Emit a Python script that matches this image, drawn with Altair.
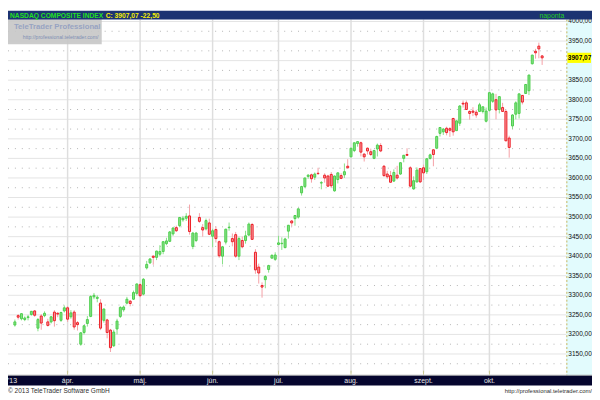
import altair as alt
import pandas as pd

# ---------------- data (NASDAQ Composite, daily) ----------------
dates = ["03-07","03-08","03-11","03-12","03-13","03-14","03-15","03-18","03-19","03-20",
         "03-21","03-22","03-25","03-26","03-27","03-28","04-01","04-02","04-03","04-04",
         "04-05","04-08","04-09","04-10","04-11","04-12","04-15","04-16","04-17","04-18",
         "04-19","04-22","04-23","04-24","04-25","04-26","04-29","04-30","05-01","05-02",
         "05-03","05-06","05-07","05-08","05-09","05-10","05-13","05-14","05-15","05-16",
         "05-17","05-20","05-21","05-22","05-23","05-24","05-28","05-29","05-30","05-31",
         "06-03","06-04","06-05","06-06","06-07","06-10","06-11","06-12","06-13","06-14",
         "06-17","06-18","06-19","06-20","06-21","06-24","06-25","06-26","06-27","06-28",
         "07-01","07-02","07-03","07-05","07-08","07-09","07-10","07-11","07-12","07-15",
         "07-16","07-17","07-18","07-19","07-22","07-23","07-24","07-25","07-26","07-29",
         "07-30","07-31","08-01","08-02","08-05","08-06","08-07","08-08","08-09","08-12",
         "08-13","08-14","08-15","08-16","08-19","08-20","08-21","08-22","08-23","08-26",
         "08-27","08-28","08-29","08-30","09-03","09-04","09-05","09-06","09-09","09-10",
         "09-11","09-12","09-13","09-16","09-17","09-18","09-19","09-20","09-23","09-24",
         "09-25","09-26","09-27","09-30","10-01","10-02","10-03","10-04","10-07","10-08",
         "10-09","10-10","10-11","10-14","10-15","10-16","10-17","10-18","10-21","10-22",
         "10-23"]

opens = [3224,3248,3240,3238,3243,3251,3260,3216,3247,3248,
         3232,3232,3257,3254,3236,3260,3268,3245,3257,3230,
         3175,3205,3228,3246,3296,3292,3280,3236,3237,3211,
         3171,3214,3246,3263,3280,3285,3290,3305,3327,3303,
         3370,3383,3400,3397,3405,3412,3432,3438,3457,3473,
         3478,3493,3497,3503,3425,3440,3499,3473,3470,3485,
         3451,3468,3437,3400,3436,3473,3445,3455,3400,3440,
         3440,3454,3481,3410,3372,3325,3340,3366,3395,3392,
         3430,3432,3422,3464,3490,3496,3500,3562,3578,3604,
         3608,3602,3612,3587,3607,3605,3609,3567,3596,3606,
         3608,3630,3654,3670,3688,3690,3661,3676,3667,3650,
         3674,3683,3630,3610,3606,3592,3607,3610,3650,3660,
         3626,3572,3590,3624,3626,3616,3650,3672,3676,3714,
         3718,3727,3726,3752,3721,3740,3791,3792,3770,3771,
         3768,3770,3770,3745,3773,3796,3800,3775,3780,3770,
         3702,3733,3763,3765,3811,3816,3823,3892,3924,3937,
         3912]

highs = [3238,3252,3254,3246,3250,3260,3262,3242,3252,3259,
         3240,3247,3262,3257,3258,3274,3272,3262,3262,3234,
         3206,3224,3247,3300,3306,3300,3290,3266,3240,3214,
         3212,3240,3272,3274,3296,3288,3312,3330,3330,3344,
         3388,3394,3402,3414,3428,3438,3447,3464,3474,3478,
         3499,3503,3510,3532,3462,3462,3510,3482,3496,3496,
         3470,3476,3440,3426,3470,3486,3458,3462,3450,3450,
         3465,3486,3485,3418,3381,3333,3352,3378,3405,3410,
         3452,3448,3447,3480,3492,3505,3522,3580,3600,3610,
         3611,3614,3626,3592,3612,3608,3615,3606,3614,3612,
         3637,3648,3676,3690,3694,3693,3663,3678,3675,3672,
         3688,3689,3633,3618,3618,3622,3631,3640,3658,3676,
         3630,3604,3627,3625,3634,3651,3662,3673,3708,3729,
         3727,3731,3730,3754,3747,3786,3798,3798,3773,3781,
         3774,3792,3782,3780,3818,3818,3815,3808,3792,3774,
         3708,3763,3796,3816,3812,3840,3864,3915,3930,3946,
         3914]

lows = [3220,3238,3236,3234,3236,3248,3245,3208,3212,3244,
        3220,3228,3220,3244,3232,3256,3232,3240,3212,3210,
        3171,3200,3220,3244,3290,3282,3211,3230,3190,3155,
        3168,3200,3242,3258,3277,3272,3288,3300,3295,3300,
        3366,3380,3378,3390,3400,3405,3428,3436,3452,3462,
        3474,3488,3490,3455,3418,3436,3485,3450,3466,3454,
        3423,3435,3396,3379,3430,3465,3425,3396,3390,3420,
        3432,3452,3443,3355,3330,3294,3318,3358,3394,3388,
        3428,3416,3420,3445,3476,3478,3496,3555,3574,3598,
        3588,3595,3608,3571,3588,3578,3574,3565,3586,3597,
        3600,3624,3654,3666,3680,3655,3642,3660,3656,3648,
        3655,3666,3603,3598,3589,3590,3596,3608,3640,3656,
        3576,3570,3588,3587,3595,3610,3647,3630,3676,3706,
        3710,3709,3705,3708,3721,3733,3780,3774,3749,3758,
        3754,3770,3765,3742,3770,3792,3750,3765,3770,3694,
        3652,3725,3750,3752,3788,3815,3812,3890,3905,3906,
        3889]

closes = [3232,3244,3253,3242,3245,3259,3249,3238,3229,3254,
          3223,3245,3235,3252,3256,3268,3239,3255,3219,3225,
          3204,3222,3238,3297,3300,3295,3216,3265,3205,3166,
          3206,3234,3269,3270,3290,3279,3307,3329,3299,3341,
          3379,3393,3397,3413,3412,3437,3439,3462,3472,3465,
          3499,3497,3502,3463,3459,3459,3489,3467,3491,3456,
          3465,3445,3401,3424,3469,3474,3437,3400,3445,3424,
          3452,3482,3443,3365,3357,3321,3348,3376,3402,3403,
          3434,3433,3444,3479,3485,3504,3521,3578,3600,3607,
          3598,3610,3611,3588,3600,3579,3580,3605,3613,3599,
          3616,3626,3676,3690,3693,3666,3654,3669,3660,3670,
          3684,3669,3606,3603,3589,3614,3600,3639,3658,3658,
          3579,3593,3620,3590,3613,3649,3659,3660,3706,3729,
          3725,3716,3722,3718,3746,3784,3789,3775,3765,3768,
          3761,3787,3782,3771,3818,3815,3774,3808,3770,3695,
          3678,3761,3792,3815,3794,3839,3863,3914,3920,3930,
          3907.07]

y_ticks = [3150, 3200, 3250, 3300, 3350, 3400, 3450, 3500, 3550, 3600,
           3650, 3700, 3750, 3800, 3850, 3900, 3950, 4000]
y_labels = ["3150,00", "3200,00", "3250,00", "3300,00", "3350,00", "3400,00",
            "3450,00", "3500,00", "3550,00", "3600,00", "3650,00", "3700,00",
            "3750,00", "3800,00", "3850,00", "3900,00", "3950,00", "4000,00"]
dotted_levels = [3125, 3175, 3225, 3275, 3325, 3375, 3425, 3475, 3525, 3575,
                 3625, 3675, 3725, 3775, 3825, 3875, 3925, 3975, 4025]
month_keys = ["04", "05", "06", "07", "08", "09", "10"]
month_labels = ["ápr.", "máj.", "jún.", "júl.", "aug.", "szept.", "okt."]

title_name = "NASDAQ COMPOSITE INDEX"
title_quote = "C: 3907,07 -22,50"
last_label = "3907,07"

FONT = "Liberation Sans"

# ---------------- tables ----------------
df = pd.DataFrame({"date": dates, "o": opens, "h": highs, "l": lows, "c": closes})
df["i"] = range(len(df))
df["dir"] = ["up" if c >= o else "down" for o, c in zip(df["o"], df["c"])]

month_idx = [int(df.index[df["date"].str.startswith(m)][0]) for m in month_keys]
months = pd.DataFrame({"i": month_idx, "lab": month_labels})
last = closes[-1]
ticks_all = pd.DataFrame({"v": y_ticks, "lab": y_labels})
ticks = ticks_all[(ticks_all["v"] - last).abs() > 20]      # label hidden behind the price tag
dots = pd.DataFrame({"v": dotted_levels})
lastdf = pd.DataFrame({"v": [last], "lo": [last - 13], "hi": [last + 13], "lab": [last_label]})
one = pd.DataFrame({"a": [0]})

W, H = 592, 392
XS = alt.Scale(domain=[-0.5886, 173.63], nice=False, zero=False)
YS = alt.Scale(domain=[3039.09, 4027.74], nice=False, zero=False)
PLOT_R = 566   # right edge of plot area (chart coords)
PLOT_B = 367   # bottom edge of plot area

def X(f):
    return alt.X(f, type="quantitative", scale=XS, axis=None)

def Y(f):
    return alt.Y(f, type="quantitative", scale=YS, axis=None)

def label(text, x, y, size, color, align="left", weight="normal"):
    return alt.Chart(one).mark_text(text=text, font=FONT, fontSize=size, fontWeight=weight,
                                    color=color, align=align, baseline="middle").encode(
        x=alt.value(x), y=alt.value(y))

def box(x1, x2, y1, y2, fill, opacity=1.0):
    return alt.Chart(one).mark_rect(fill=fill, opacity=opacity).encode(
        x=alt.value(x1), x2=alt.value(x2), y=alt.value(y1), y2=alt.value(y2))

dircol_fill = alt.Color("dir:N", scale=alt.Scale(domain=["up", "down"], range=["#d3f6cf", "#ee1c24"]), legend=None)
dircol_stroke = alt.Stroke("dir:N", scale=alt.Scale(domain=["up", "down"], range=["#4cce4c", "#ee1c24"]), legend=None)
wickcol = alt.Color("dir:N", scale=alt.Scale(domain=["up", "down"], range=["#86e086", "#f5a0a6"]), legend=None)

grid_solid = alt.Chart(ticks_all).mark_rule(color="#e4e4e4", strokeWidth=1).encode(
    y=Y("v"), x=alt.value(0), x2=alt.value(PLOT_R))
grid_dot = alt.Chart(dots).mark_rule(color="#b4b4b4", strokeWidth=1, strokeDash=[1, 6]).encode(
    y=Y("v"), x=alt.value(0), x2=alt.value(PLOT_R))
grid_v = alt.Chart(months).mark_rule(color="#dedede", strokeWidth=1.5).encode(
    x=X("i"), y=alt.value(9), y2=alt.value(PLOT_B))

logo_box = box(0, 95, 7, 34, "#c6c6c6", 0.9)
logo_t1 = label("TeleTrader Professional", 6, 17, 7.8, "#97a3c2", weight="bold")
logo_t2 = label("http://professional.teletrader.com/", 15, 27, 5.2, "#7f8fb4")

wicks = alt.Chart(df).mark_rule(strokeWidth=1).encode(
    x=X("i"), y=Y("l"), y2=alt.Y2("h"), color=wickcol)
bodies = alt.Chart(df).mark_bar(size=2, strokeWidth=1).encode(
    x=X("i"), y=Y("o"), y2=alt.Y2("c"), color=dircol_fill, stroke=dircol_stroke)

panel = box(PLOT_R, W, 9, PLOT_B + 3, "#e2fbfd")
panel_edge = alt.Chart(one).mark_rule(color="#c8b45a", strokeWidth=1, strokeDash=[2, 2]).encode(
    x=alt.value(PLOT_R + 0.5), y=alt.value(9), y2=alt.value(PLOT_B + 3))
ylab = alt.Chart(ticks).mark_text(font=FONT, fontSize=6.6, color="#101010",
                                  align="left", baseline="middle").encode(
    y=Y("v"), x=alt.value(PLOT_R + 2), text="lab:N")
last_box = alt.Chart(lastdf).mark_rect(fill="#ffff00").encode(
    y=Y("lo"), y2=alt.Y2("hi"), x=alt.value(PLOT_R + 1), x2=alt.value(W - 1))
last_txt = alt.Chart(lastdf).mark_text(font=FONT, fontSize=6.6, fontWeight="bold",
                                       color="#000000", align="left", baseline="middle").encode(
    y=Y("v"), x=alt.value(PLOT_R + 1.5), text="lab:N")

header = box(0, W, 0, 9, "#1c3372")
head_t1 = label(title_name, 2, 5, 6.8, "#22e022", weight="bold")
head_t2 = label(title_quote, 99, 5, 6.8, "#f6f000", weight="bold")
head_t3 = label("naponta", 564, 5, 7, "#22d022", align="right")

strip = box(0, W, PLOT_B + 2, PLOT_B + 3, "#a8a8a8")
band = box(0, W, PLOT_B + 3, 380, "#05052e")
mticks = alt.Chart(months).mark_rule(color="#c8c890", strokeWidth=1).encode(
    x=X("i"), y=alt.value(PLOT_B - 2), y2=alt.value(PLOT_B + 2))
mlab = alt.Chart(months).mark_text(font=FONT, fontSize=7, color="#e6e6e6",
                                   align="center", baseline="middle").encode(
    x=X("i"), y=alt.value(375), text="lab:N")
ylab13 = label("'13", 0, 375, 7, "#e6e6e6")

foot1 = label("© 2013 TeleTrader Software GmbH", 0, 386, 6.6, "#303030")
foot2 = label("http://professional.teletrader.com/", W, 386, 6, "#303030", align="right")

chart = alt.layer(
    grid_solid, grid_dot, grid_v, logo_box, logo_t1, logo_t2, wicks, bodies,
    panel, panel_edge, ylab, last_box, last_txt,
    header, head_t1, head_t2, head_t3,
    strip, band, mticks, mlab, ylab13, foot1, foot2
).properties(
    width=W, height=H, autosize=alt.AutoSizeParams(type="none"), padding=0, background="#ffffff"
).configure_view(stroke=None)

chart.save("out.html", embed_options={"renderer": "svg", "actions": False})
